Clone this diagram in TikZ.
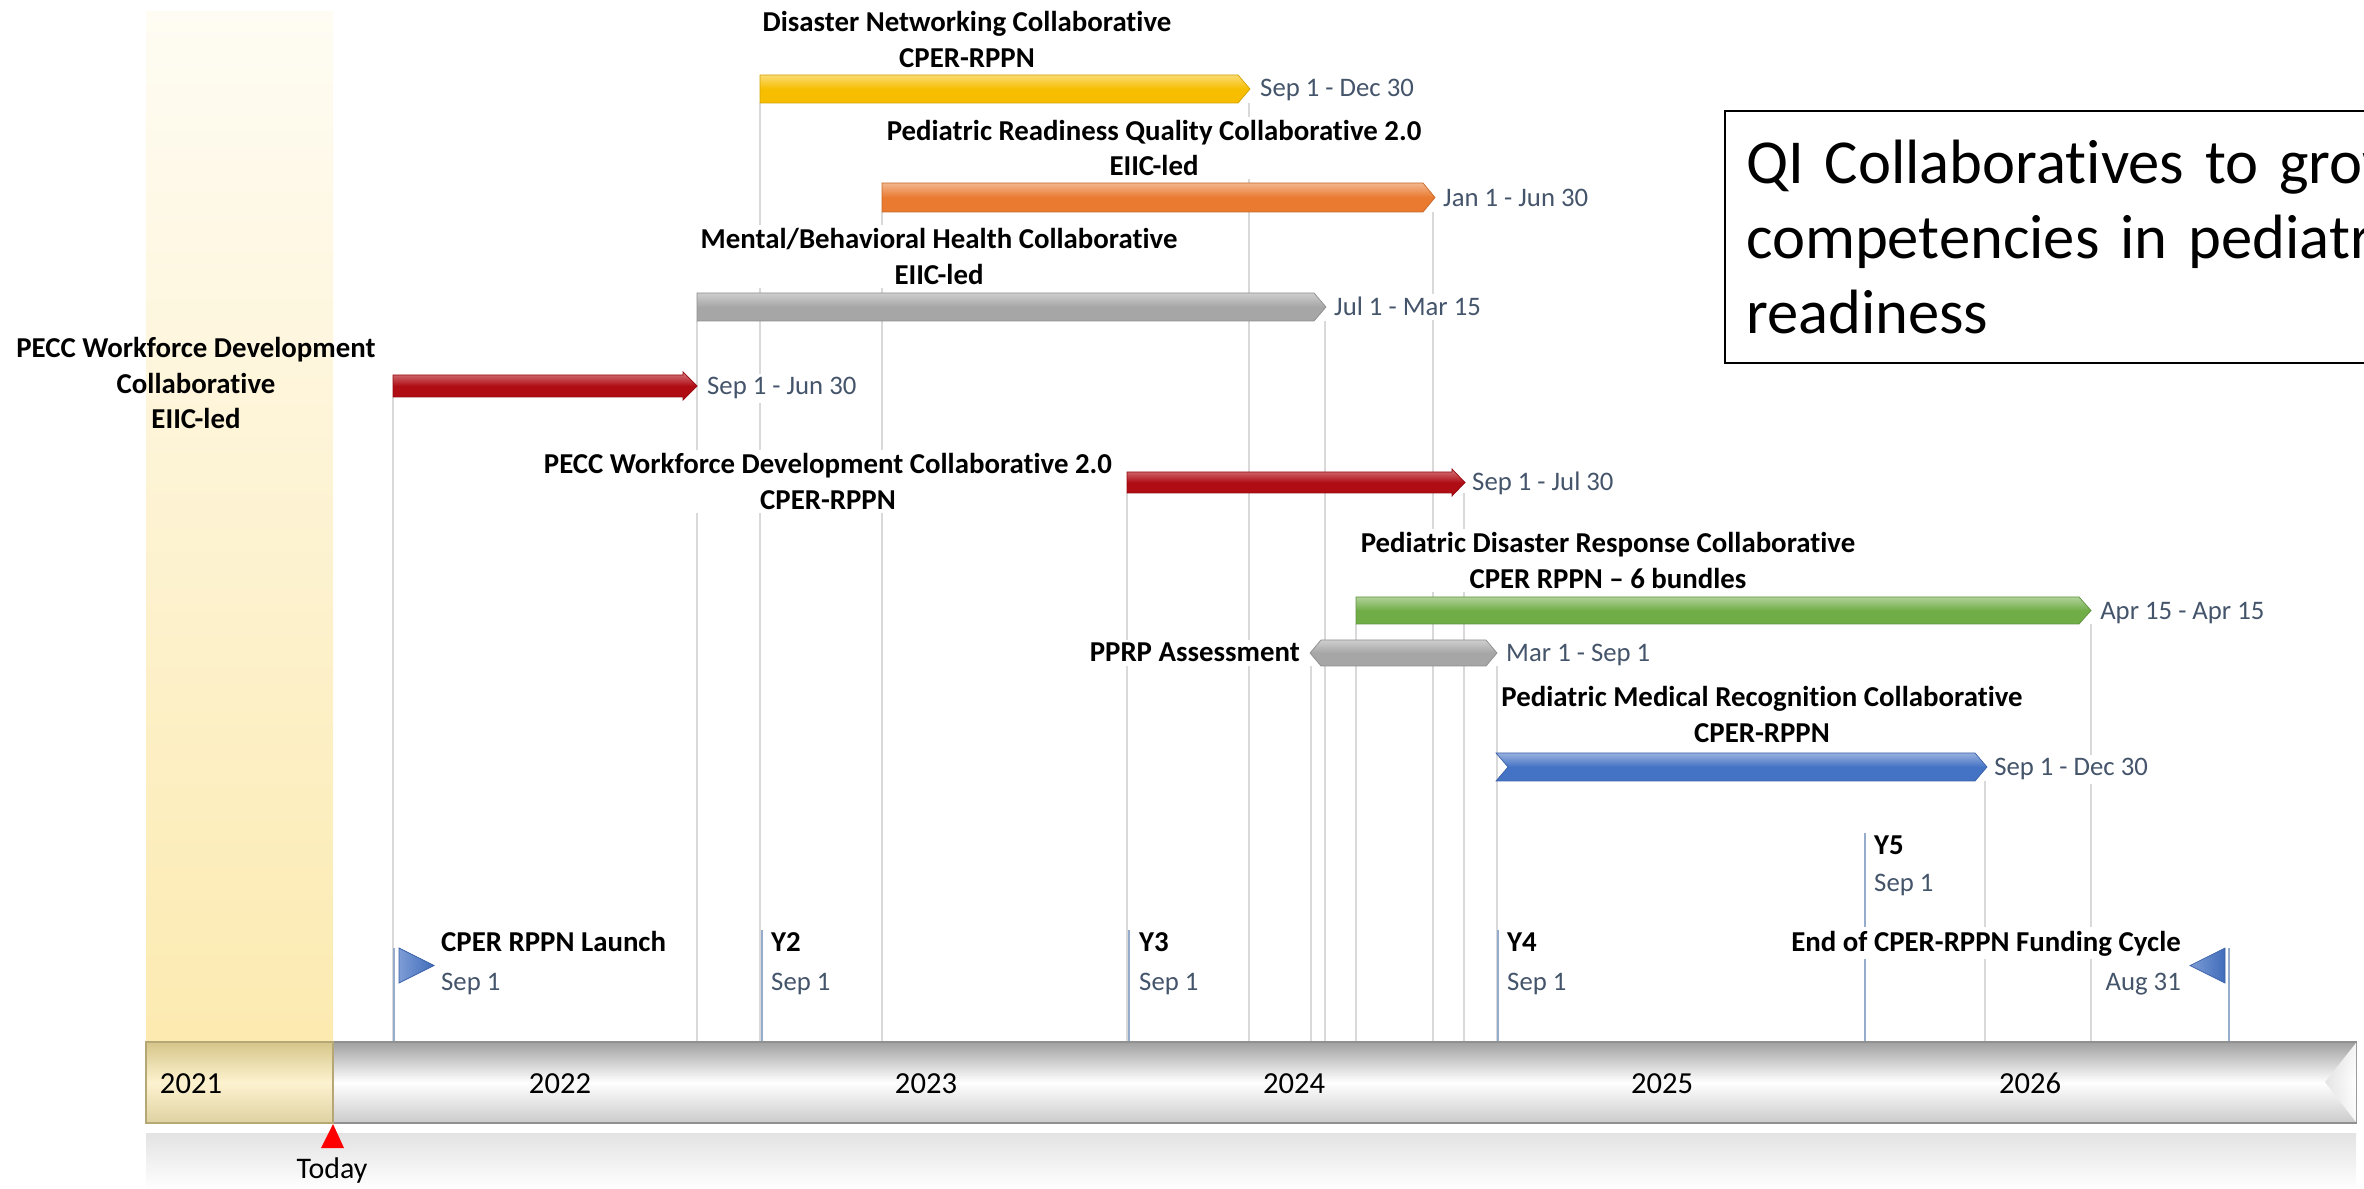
\documentclass[tikz,border=0pt]{standalone}
\usepackage{fontspec}
\setmainfont{Carlito}[Ligatures={TeX,CommonOff}]
\usetikzlibrary{positioning}
\pgfdeclarelayer{bg}
\pgfsetlayers{bg,main}
\definecolor{dncyellow}{RGB}{247,190,0}
\definecolor{prqorange}{RGB}{233,122,48}
\definecolor{barsilver}{RGB}{166,166,166}
\definecolor{pwdred}{RGB}{176,12,20}
\definecolor{pdrgreen}{RGB}{112,173,71}
\definecolor{pmrblue}{RGB}{68,114,196}
\definecolor{dategray}{RGB}{68,84,106}
\definecolor{gridgray}{RGB}{217,217,217}
\definecolor{msblue}{RGB}{150,172,205}
\definecolor{bandtan}{RGB}{252,234,176}
\definecolor{axgray}{RGB}{160,160,160}
\definecolor{axtan}{RGB}{214,198,138}

\begin{document}
\begin{tikzpicture}[x=0.01cm, y=-0.01cm,
  bar/.style={top color=#1!55!white, bottom color=#1, middle color=#1, draw=#1!85!black, line width=0.2pt},
  flag/.style={left color=pmrblue!70!white, right color=pmrblue!95!black, draw=pmrblue!85!black, line width=0.2pt},
  ttl/.style={font=\fontsize{8.2}{10}\selectfont\bfseries, align=center, fill=white, inner sep=1pt},
  ms/.style={font=\fontsize{8.2}{10}\selectfont\bfseries, anchor=base west, fill=white, inner sep=1pt},
  dt/.style={font=\fontsize{7.6}{9}\selectfont, text=dategray, anchor=base west, fill=white, inner sep=1pt},
  yr/.style={font=\fontsize{8.7}{10}\selectfont, anchor=base},
  gridln/.style={draw=gridgray, line width=0.45pt},
  msline/.style={draw=msblue, line width=0.55pt}]
\useasboundingbox (0,0) rectangle (2364,1189);
\clip (0,0) rectangle (2364,1189);

% 2021 band
\begin{pgfonlayer}{bg}
\shade[top color=bandtan!15!white, bottom color=bandtan] (146,12) rectangle (333,1042);
\end{pgfonlayer}

% Time axis
\coordinate (axis) at (146,1042);
\shade[top color=axgray, bottom color=axgray!55!white, middle color=white, draw=axgray!90!black, line width=0.3pt]
  (333,1042) rectangle (2356,1123);
\shade[left color=axgray!30!white, right color=white, opacity=0.9]
  (2356,1043) -- (2325,1082) -- (2356,1122) -- cycle;
\shade[top color=axtan, bottom color=axtan!80!white, middle color=bandtan!60!white, draw=axtan!85!black, line width=0.3pt]
  (146,1042) rectangle (333,1123);
\shade[top color=gray!22, bottom color=white] (146,1133) rectangle (2356,1189);
\node[yr] (y21) at (191,1093) {2021};
\node[yr] (y22) at (560,1093) {2022};
\node[yr] (y23) at (926,1093) {2023};
\node[yr] (y24) at (1294,1093) {2024};
\node[yr] (y25) at (1662,1093) {2025};
\node[yr] (y26) at (2030,1093) {2026};

% Today
\fill[red] (333,1124) -- (344,1148) -- (321,1148) -- cycle;
\node[font=\fontsize{8.5}{10}\selectfont, anchor=base] (today) at (332,1178) {Today};

% Bars
\path[bar=dncyellow] (760,75) -- (1238,75) -- (1250,89) -- (1238,103) -- (760,103) -- cycle;
\path[bar=prqorange] (882,183) -- (1423,183) -- (1435,197.5) -- (1423,212) -- (882,212) -- cycle;
\path[bar=barsilver] (697,293) -- (1314,293) -- (1326,307) -- (1314,321) -- (697,321) -- cycle;
\path[bar=pwdred] (393,375) -- (683,375) -- (683,372) -- (697,386) -- (683,400) -- (683,397) -- (393,397) -- cycle;
\path[bar=pwdred] (1127,472) -- (1452,472) -- (1452,469) -- (1465,482.5) -- (1452,496) -- (1452,493) -- (1127,493) -- cycle;
\path[bar=pdrgreen] (1356,597) -- (2079,597) -- (2091,610.5) -- (2079,624) -- (1356,624) -- cycle;
\path[bar=barsilver] (1310,653) -- (1321,640) -- (1486,640) -- (1497,653) -- (1486,666) -- (1321,666) -- cycle;
\path[bar=pmrblue] (1496,753) -- (1975,753) -- (1987,767) -- (1975,781) -- (1496,781) -- (1508,767) -- cycle;

\coordinate (dncS) at (760,103);  \coordinate (dncE) at (1249,103);
\coordinate (prqS) at (882,212);  \coordinate (prqE) at (1433,212);
\coordinate (mbhS) at (697,321);  \coordinate (mbhE) at (1325,321);
\coordinate (pwdS) at (393,397);
\coordinate (pwd2S) at (1127,493); \coordinate (pwd2E) at (1464,493);
\coordinate (pdrS) at (1356,624); \coordinate (pdrE) at (2091,624);
\coordinate (pprpS) at (1311,666); \coordinate (pprpE) at (1497,666);
\coordinate (pmrE) at (1985,781);

% Milestones
\coordinate (launch) at (394,948);
\coordinate (ms2) at (762,930);
\coordinate (ms3) at (1129,930);
\coordinate (ms4) at (1498,930);
\coordinate (ms5) at (1865,833);
\coordinate (fund) at (2229,948);

\begin{pgfonlayer}{bg}
\foreach \c in {pwdS,mbhS,dncS,prqS,pwd2S,dncE,pprpS,mbhE,pdrS,prqE,pwd2E,pprpE,pmrE,pdrE}
  \draw[gridln] (\c) -- (\c |- axis);
\foreach \c in {launch,ms2,ms3,ms4,ms5,fund}
  \draw[msline] (\c) -- (\c |- axis);
\end{pgfonlayer}

\path[flag] (399,948) -- (434,965.5) -- (399,983) -- cycle;
\path[flag] (2225,948) -- (2190,965.5) -- (2225,983) -- cycle;

% Labels
\node[ttl] (dnc) at (967,39.5) {Disaster Networking Collaborative\\CPER-RPPN};
\node[dt] (dncd) at (1256,97) {Sep 1 - Dec 30};
\node[ttl] (prq) at (1154,148) {Pediatric Readiness Quality Collaborative 2.0\\EIIC-led};
\node[dt] (prqd) at (1439,207) {Jan 1 - Jun 30};
\node[ttl] (mbh) at (939,256.5) {Mental/Behavioral Health Collaborative\\EIIC-led};
\node[dt] (mbhd) at (1330,316) {Jul 1 - Mar 15};
\node[ttl, fill=none] (pwd) at (196,383) {PECC Workforce Development\\Collaborative\\EIIC-led};
\node[dt] (pwdd) at (703,395) {Sep 1 - Jun 30};
\node[ttl] (pwd2) at (828,481.5) {PECC Workforce Development Collaborative 2.0\\CPER-RPPN};
\node[dt] (pwd2d) at (1468,491) {Sep 1 - Jul 30};
\node[ttl] (pdr) at (1608,560.5) {Pediatric Disaster Response Collaborative\\CPER RPPN \textendash{} 6 bundles};
\node[dt] (pdrd) at (2096,620) {Apr 15 - Apr 15};
\node[ms, anchor=base east] (pprp) at (1304,662) {PPRP Assessment};
\node[dt] (pprpd) at (1502,662) {Mar 1 - Sep 1};
\node[ttl] (pmr) at (1762,714.5) {Pediatric Medical Recognition Collaborative\\CPER-RPPN};
\node[dt] (pmrd) at (1990,776) {Sep 1 - Dec 30};

\node[ms] (launcht) at (437,951) {CPER RPPN Launch};
\node[dt] (launchd) at (437,990) {Sep 1};
\node[ms] (ms2t) at (767,951) {Y2};
\node[dt] (ms2d) at (767,990) {Sep 1};
\node[ms] (ms3t) at (1135,951) {Y3};
\node[dt] (ms3d) at (1135,990) {Sep 1};
\node[ms] (ms4t) at (1503,951) {Y4};
\node[dt] (ms4d) at (1503,990) {Sep 1};
\node[ms] (ms5t) at (1870,854) {Y5};
\node[dt] (ms5d) at (1870,892) {Sep 1};
\node[ms, anchor=base east] (fundt) at (2185,951) {End of CPER-RPPN Funding Cycle};
\node[dt, anchor=base east] (fundd) at (2185,990) {Aug 31};

% Title box
\node[draw, line width=0.6pt, anchor=north west, minimum height=2.52cm, text width=8cm,
  inner xsep=0.21cm, inner ysep=0pt, align=left, font=\fontsize{17.8}{21.4}\selectfont]
  (qi) at (1724,110) {QI Collaboratives to grow\\competencies in pediatric\\readiness};
\end{tikzpicture}
\end{document}
